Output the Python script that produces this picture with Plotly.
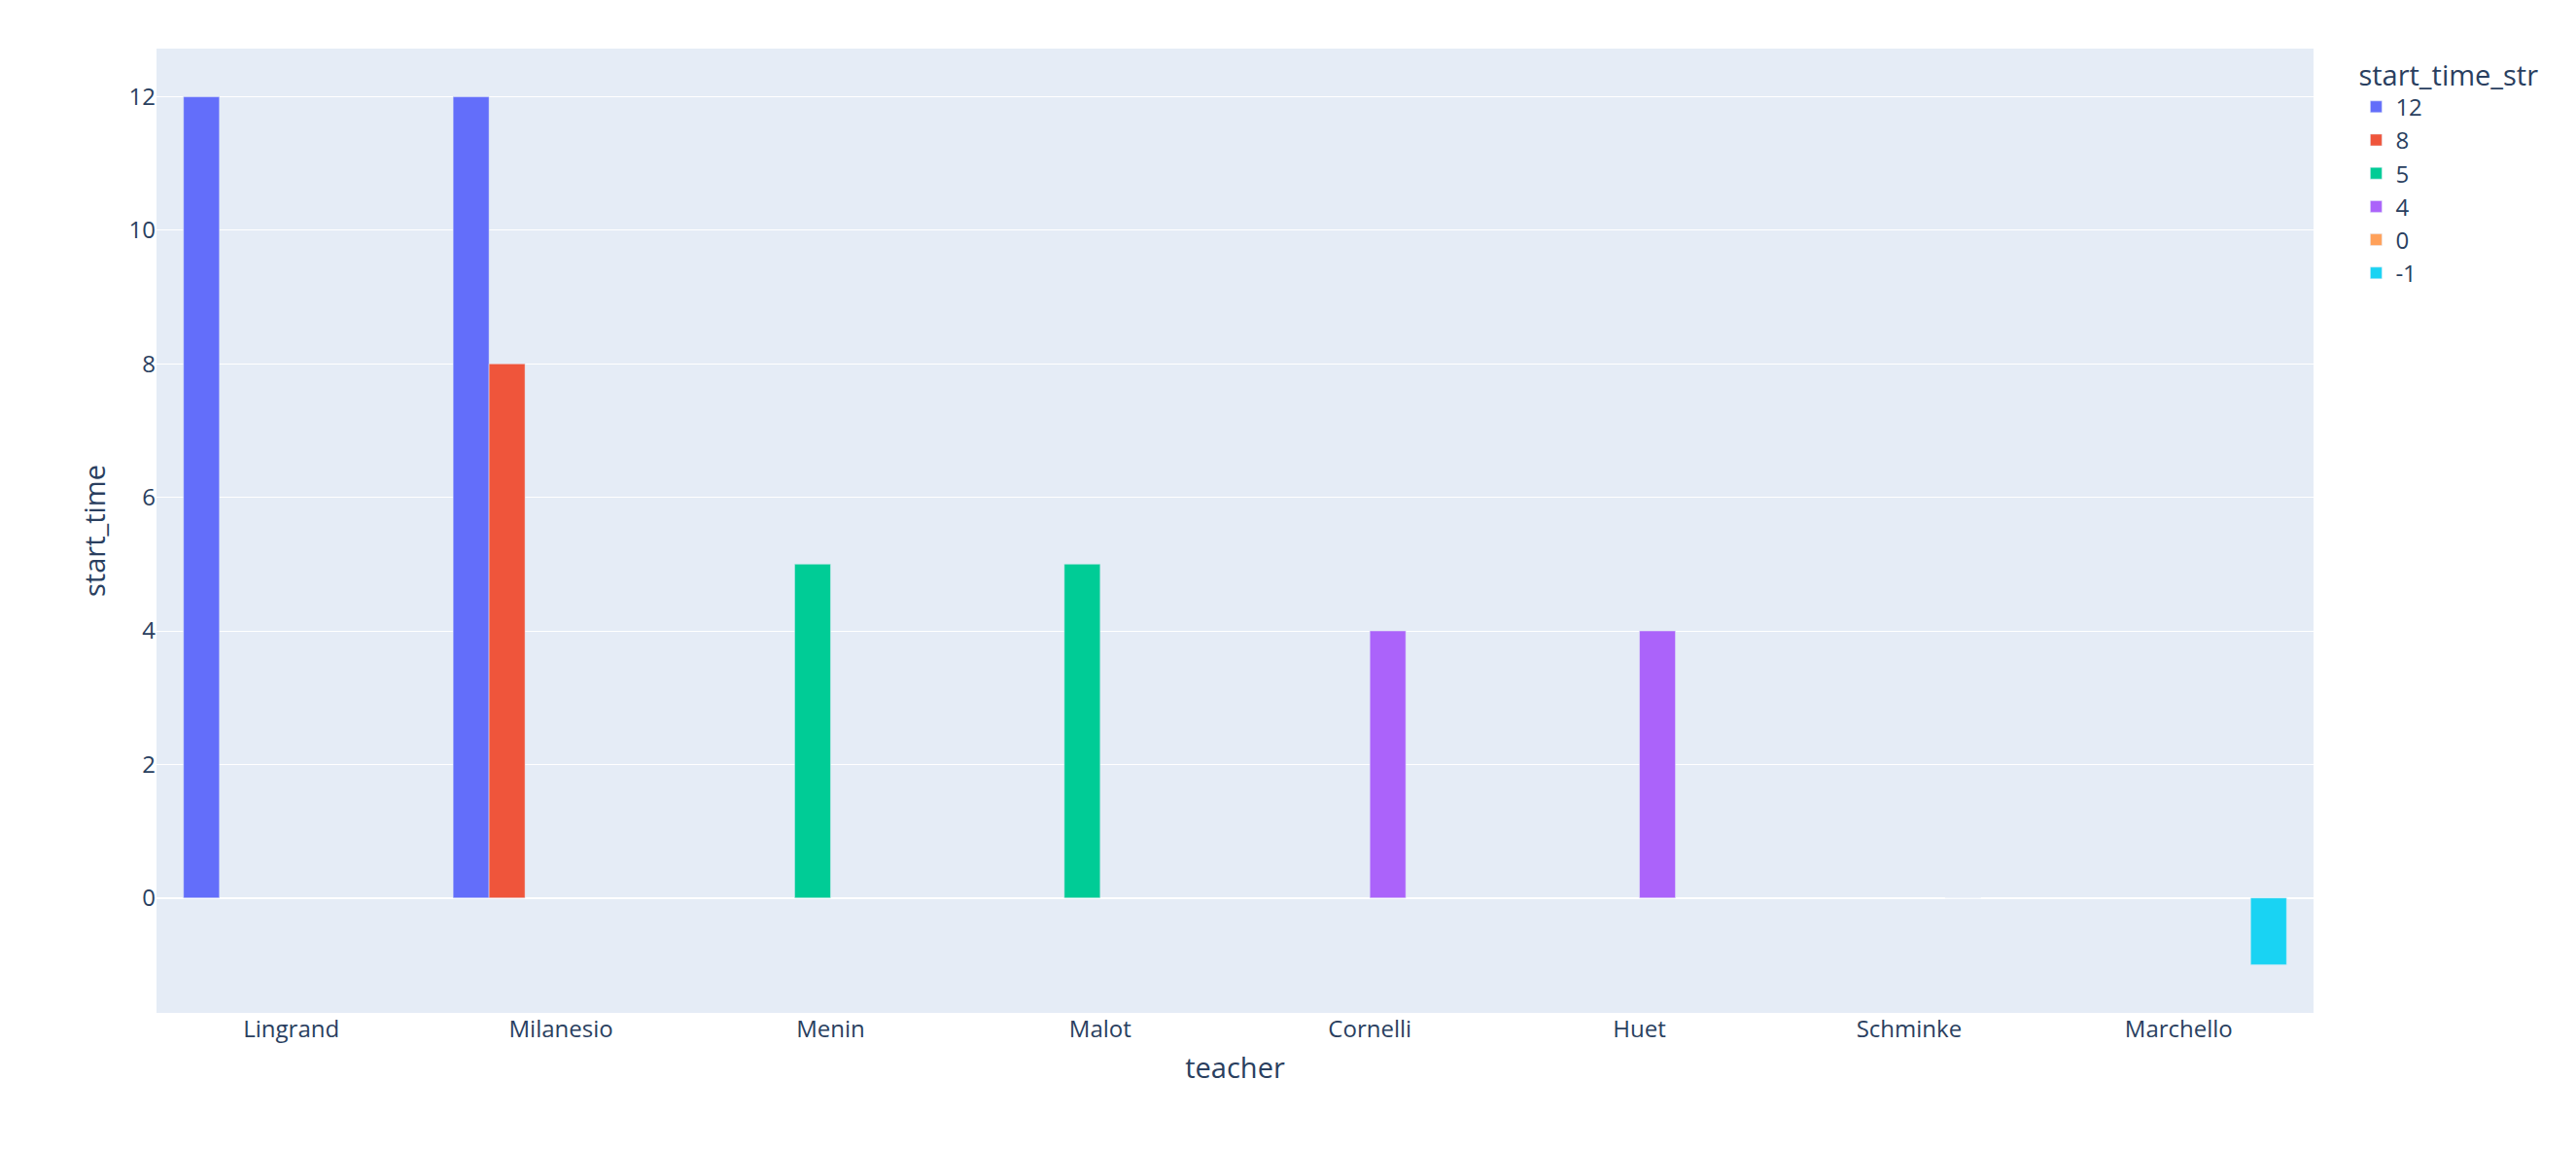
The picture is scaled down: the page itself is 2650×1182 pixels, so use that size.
import plotly.graph_objects as go

teachers = ["Lingrand", "Milanesio", "Menin", "Malot", "Cornelli", "Huet", "Schminke", "Marchello"]
series_names = ["12", "8", "5", "4", "0", "-1"]
series_x = [["Lingrand", "Milanesio"], ["Milanesio"], ["Menin", "Malot"], ["Cornelli", "Huet"], ["Schminke"], ["Marchello"]]
series_y = [[12, 12], [8], [5, 5], [4, 4], [0], [-1]]
colors = ["#636efa", "#EF553B", "#00cc96", "#ab63fa", "#FFA15A", "#19d3f3"]

fig = go.Figure()
for n, xs, ys, c in zip(series_names, series_x, series_y, colors):
    fig.add_trace(go.Bar(name=n, x=xs, y=ys, marker_color=c, legendgroup=n))
fig.update_layout(
    template="plotly", barmode="group",
    font=dict(size=24),
    margin=dict(l=153, r=262, t=42, b=132),
    xaxis=dict(title="teacher", categoryorder="array", categoryarray=teachers),
    yaxis=dict(title="start_time"),
    legend=dict(title_text="start_time_str", tracegroupgap=0),
)
fig.write_html("out.html")
